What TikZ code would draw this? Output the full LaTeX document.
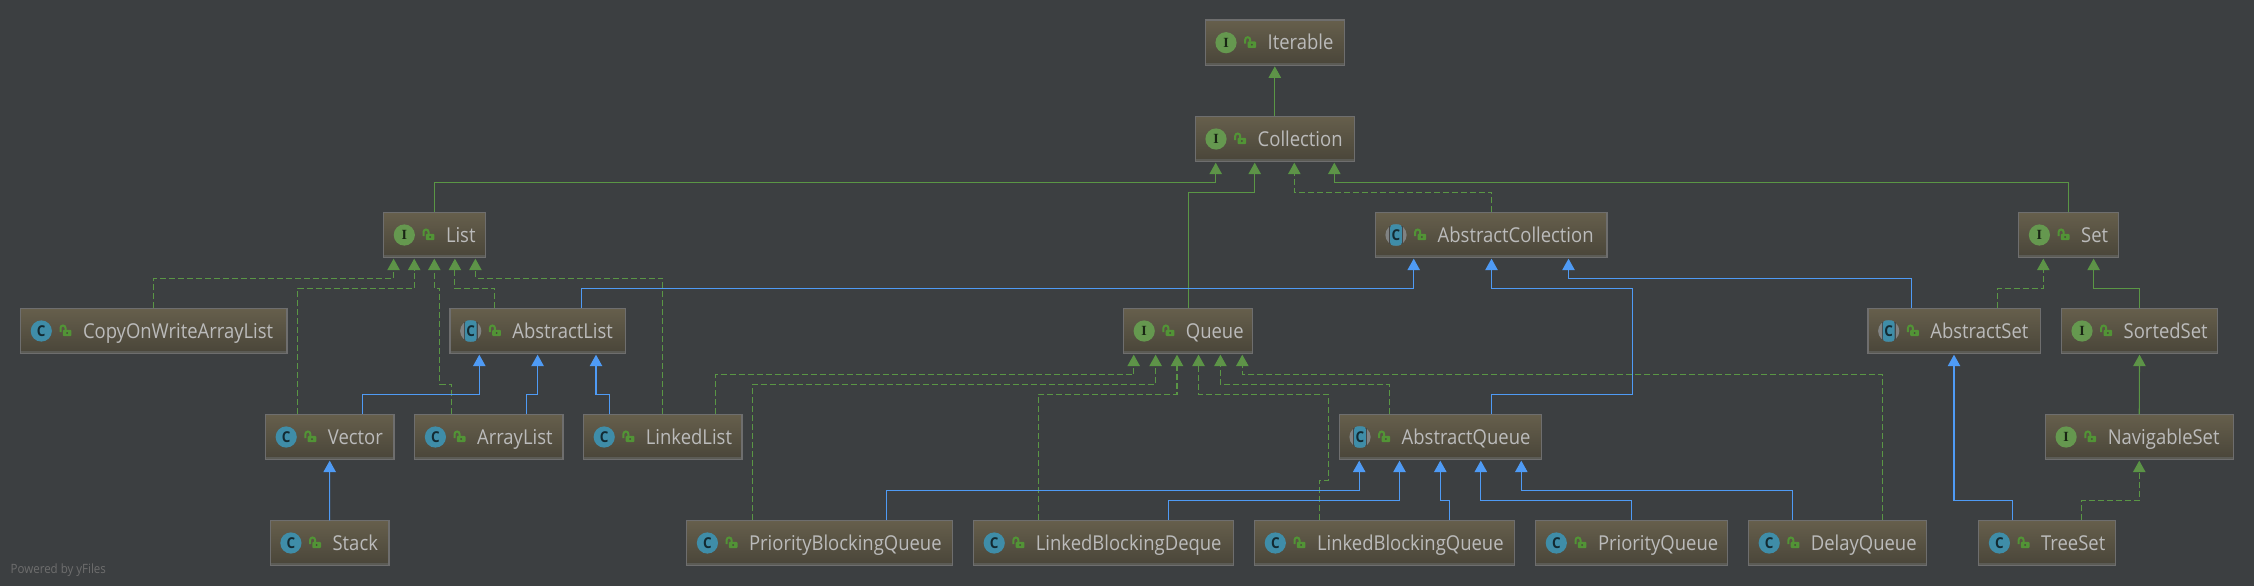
\documentclass[tikz,border=0pt]{standalone}
\usepackage{xcolor}
\usepackage{fontspec}
\usetikzlibrary{arrows.meta, calc, positioning}
\setmainfont[FakeStretch=0.9]{Open Sans}
\newfontfamily\letterfont{Liberation Serif}

\definecolor{canvasdark}{HTML}{3C3F41}
\definecolor{boxtop}{HTML}{665F4C}
\definecolor{boxbottom}{HTML}{494539}
\definecolor{boxedge}{HTML}{6E6E6E}
\definecolor{boxfoot}{HTML}{5B5B55}
\definecolor{labelgray}{HTML}{BBBBBB}
\definecolor{implgreen}{HTML}{5A9645}
\definecolor{tipgreen}{HTML}{5F9249}
\definecolor{extblue}{HTML}{4F9BF5}
\definecolor{icongreen}{HTML}{65984F}
\definecolor{iconblue}{HTML}{3F8DA8}
\definecolor{iconring}{HTML}{808282}
\definecolor{lockgreen}{HTML}{529436}

\tikzset{
    typebox/.style={rectangle, draw=boxedge, line width=1.2pt, top color=boxtop, bottom color=boxbottom,
        anchor=north west, inner sep=0pt, outer sep=0pt, minimum height=45.4pt, align=left,
        text=labelgray, font=\fontsize{20.5}{22}\selectfont,
        path picture={\fill[boxfoot] (path picture bounding box.south west) rectangle
            ([yshift=2.6pt]path picture bounding box.south east);}},
    extends/.style={extblue, line width=1.1pt, -{Triangle[length=11.5pt,width=12.5pt]}, shorten >=1pt},
    inherits/.style={implgreen, line width=1.1pt, -{Triangle[length=11.5pt,width=12.5pt,fill=tipgreen]}, shorten >=1pt},
    implements/.style={inherits, dash pattern=on 6pt off 3pt},
    interfaceicon/.pic={
        \fill[icongreen] (0,0) circle (10.6);
        \node[text=black!75!icongreen, font=\letterfont\bfseries\fontsize{14}{14}\selectfont] (letter) at (0,0) {I};
    },
    classicon/.pic={
        \fill[iconblue] (0,0) circle (10.6);
        \node[text=black!70!iconblue, font=\bfseries\fontsize{15}{15}\selectfont] (letter) at (0,0) {C};
    },
    abstracticon/.pic={
        \fill[iconring] (0,0) circle (10.6);
        \fill[black!45!iconring] (-7,-9) rectangle (7,9);
        \fill[iconblue, rounded corners=3pt] (-5.8,-10.6) rectangle (5.8,10.6);
        \node[text=black!70!iconblue, font=\bfseries\fontsize{15}{15}\selectfont] (letter) at (0,0) {C};
    },
    openlock/.pic={
        \fill[lockgreen, rounded corners=1pt] (-4.3,-3.2) rectangle (4.3,3.2);
        \draw[lockgreen, line width=2pt] (-6.6,-1) -- (-6.6,-5) arc[start angle=180, end angle=0, x radius=2.5, y radius=-2.5] -- (-1.6,-3);
        \fill[boxbottom] (0,0) circle (1);
    }
}

% name, icon, left, top, width, text
\newcommand{\typenode}[6]{
    \node[typebox, text width=#5pt] (#1) at (#3,#4) {\hspace*{62.4pt}\raisebox{0pt}[16pt][1.4pt]{#6}};
    \pic (#1icon) at ([xshift=20.7pt]#1.west) {#2icon};
    \pic (#1lock) at ([xshift=46.5pt,yshift=-2pt]#1.west) {openlock};
}

\begin{document}
\begin{tikzpicture}[x=1pt, y=-1pt]
    \fill[canvasdark] (0,0) rectangle (2254,586);
    \useasboundingbox (0,0) rectangle (2254,586);

    % Interfaces on top
    \typenode{Iterable}{interface}{1205.3}{20}{139}{Iterable}
    \typenode{Collection}{interface}{1195.3}{116.3}{159}{Collection}

    % Third row
    \typenode{List}{interface}{383.6}{212.3}{101.9}{List}
    \typenode{AbstractCollection}{abstract}{1375.3}{212.3}{231.6}{AbstractCollection}
    \typenode{Set}{interface}{2018.7}{212.3}{100}{Set}

    % Fourth row
    \typenode{CopyOnWrite}{class}{20.6}{308.3}{266.4}{CopyOnWriteArrayList}
    \typenode{AbstractList}{abstract}{450}{308.3}{175.2}{AbstractList}
    \typenode{Queue}{interface}{1123.5}{308.3}{129.1}{Queue}
    \typenode{AbstractSet}{abstract}{1868}{308.3}{172.8}{AbstractSet}
    \typenode{SortedSet}{interface}{2061.3}{308.3}{156.4}{SortedSet}

    % Fifth row
    \typenode{Vector}{class}{265.5}{414.3}{128.5}{Vector}
    \typenode{ArrayList}{class}{414.7}{414.3}{148.3}{ArrayList}
    \typenode{LinkedList}{class}{583.5}{414.3}{158.4}{LinkedList}
    \typenode{AbstractQueue}{abstract}{1339.3}{414.3}{202}{AbstractQueue}
    \typenode{NavigableSet}{interface}{2045.4}{414.3}{187.7}{NavigableSet}

    % Bottom row
    \typenode{Stack}{class}{270.2}{520.3}{118.7}{Stack}
    \typenode{PriorityBlocking}{class}{686.7}{520.3}{265.9}{PriorityBlockingQueue}
    \typenode{BlockingDeque}{class}{973.5}{520.3}{260.2}{LinkedBlockingDeque}
    \typenode{BlockingQueue}{class}{1254.6}{520.3}{260}{LinkedBlockingQueue}
    \typenode{PriorityQueue}{class}{1535.6}{520.3}{191.8}{PriorityQueue}
    \typenode{DelayQueue}{class}{1748.5}{520.3}{177.9}{DelayQueue}
    \typenode{TreeSet}{class}{1978.7}{520.3}{136.4}{TreeSet}

    \node[anchor=west, inner sep=0pt, text=boxedge, font=\fontsize{12.8}{13}\selectfont] (yfiles) at (10.5,570) {Powered by yFiles};

    % Into Collection
    \draw[inherits] (Collection) -- (Iterable);
    \draw[inherits] (List.north) -- ++(0,-30) -| (1215.7,0 |- Collection.south);
    \draw[inherits] (1188.3,0 |- Queue.north) |- (1254.7,192.3) -- (1254.7,0 |- Collection.south);
    \draw[implements] (1491.5,0 |- AbstractCollection.north) -- ++(0,-20) -| (1294.3,0 |- Collection.south);
    \draw[inherits] (2068.7,0 |- Set.north) -- ++(0,-30) -| (1334.3,0 |- Collection.south);

    % Into List
    \draw[implements] (CopyOnWrite.north) -- ++(0,-30) -| (393.6,0 |- List.south);
    \draw[implements] (297.5,0 |- Vector.north) |- (414.2,288.3) -- (414.2,0 |- List.south);
    \draw[implements] (451.5,0 |- ArrayList.north) -- ++(0,-30) -- ++(-11.9,0) -- ++(0,-96) -| (434.3,0 |- List.south);
    \draw[implements] (494.6,0 |- AbstractList.north) -- ++(0,-20) -| (454.9,0 |- List.south);
    \draw[implements] (662.5,0 |- LinkedList.north) |- (475.4,278.3) -- (475.4,0 |- List.south);

    % Into AbstractList and Vector
    \draw[extends] (362.6,0 |- Vector.north) -- ++(0,-20) -| (479.3,0 |- AbstractList.south);
    \draw[extends] (526.6,0 |- ArrayList.north) -- ++(0,-20) -| (537.6,0 |- AbstractList.south);
    \draw[extends] (609.4,0 |- LinkedList.north) -- ++(0,-20) -| (596,0 |- AbstractList.south);
    \draw[extends] (Stack) -- (Vector);

    % Into AbstractCollection
    \draw[extends] (581.6,0 |- AbstractList.north) -- ++(0,-20) -| (1413.7,0 |- AbstractCollection.south);
    \draw[extends] (1491.5,0 |- AbstractQueue.north) -- ++(0,-20) -- ++(141.1,0) -- ++(0,-106) -| (1491.5,0 |- AbstractCollection.south);
    \draw[extends] (1911.5,0 |- AbstractSet.north) -- ++(0,-30) -| (1568.5,0 |- AbstractCollection.south);

    % Into Queue
    \draw[implements] (715.5,0 |- LinkedList.north) -- ++(0,-40) -| (1133.7,0 |- Queue.south);
    \draw[implements] (752.6,0 |- PriorityBlocking.north) |- (1155.6,384.3) -- (1155.6,0 |- Queue.south);
    \draw[implements] (1038.3,0 |- BlockingDeque.north) |- (1177,394.3) -- (1177,0 |- Queue.south);
    \draw[implements] (1319.4,0 |- BlockingQueue.north) -- ++(0,-40) -- ++(9.2,0) -- ++(0,-86) -| (1198.5,0 |- Queue.south);
    \draw[implements] (1389.3,0 |- AbstractQueue.north) -- ++(0,-30) -| (1220.4,0 |- Queue.south);
    \draw[implements] (1882.3,0 |- DelayQueue.north) |- (1242.3,374.3) -- (1242.3,0 |- Queue.south);

    % Into AbstractQueue
    \draw[extends] (886.7,0 |- PriorityBlocking.north) -- ++(0,-30) -| (1359.2,0 |- AbstractQueue.south);
    \draw[extends] (1168.4,0 |- BlockingDeque.north) -- ++(0,-20) -| (1399.5,0 |- AbstractQueue.south);
    \draw[extends] (1449.5,0 |- BlockingQueue.north) -- ++(0,-20) -| (1440.3,0 |- AbstractQueue.south);
    \draw[extends] (PriorityQueue.north) -- ++(0,-20) -| (1480.8,0 |- AbstractQueue.south);
    \draw[extends] (1792.6,0 |- DelayQueue.north) -- ++(0,-30) -| (1521.3,0 |- AbstractQueue.south);

    % Set side
    \draw[implements] (1997.7,0 |- AbstractSet.north) -- ++(0,-20) -| (2043.3,0 |- Set.south);
    \draw[inherits] (SortedSet.north) -- ++(0,-20) -| (2093.6,0 |- Set.south);
    \draw[inherits] (NavigableSet.north) -- (SortedSet.south);
    \draw[extends] (2012.6,0 |- TreeSet.north) -- ++(0,-20) -| (1954,0 |- AbstractSet.south);
    \draw[implements] (2081.8,0 |- TreeSet.north) -- ++(0,-20) -| (NavigableSet.south);
\end{tikzpicture}
\end{document}
